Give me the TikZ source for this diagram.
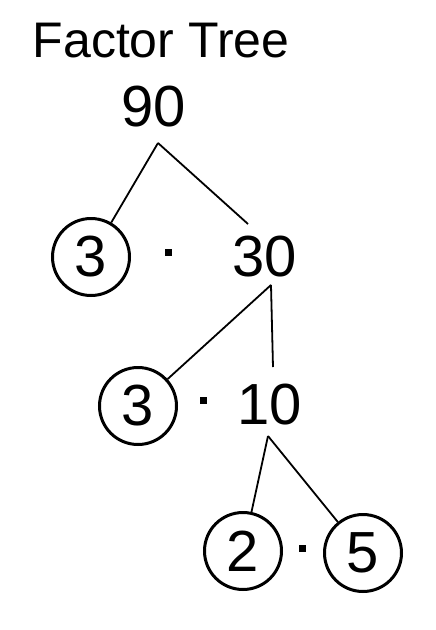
\documentclass[tikz,border=0pt]{standalone}
\usepackage{fontspec}
\setmainfont{Liberation Sans}
\begin{document}
\begin{tikzpicture}[x=1pt,y=-1pt,
  num/.style={inner sep=0pt,font=\fontsize{58}{58}\selectfont},
  ring/.style={circle,draw,line width=3pt,minimum size=77pt,inner sep=0pt,font=\fontsize{58}{58}\selectfont},
  dotmark/.style={fill,minimum size=7pt,inner sep=0pt},
  edge/.style={line width=1.8pt}]
\useasboundingbox (0,0) rectangle (436,630);
\node[inner sep=0pt,font=\fontsize{50}{50}\selectfont] (title) at (161,41) {Factor Tree};
\node[num] (n90) at (154,107) {90};
\node[ring] (c1) at (91,257) {3};
\node[dotmark] (d1) at (168,252) {};
\node[num] (n30) at (265,257) {30};
\node[ring] (c2) at (138,406) {3};
\node[dotmark] (d2) at (203,400) {};
\node[num] (n10) at (270,405) {10};
\node[ring] (c3) at (243,551) {2};
\node[dotmark] (d3) at (302,548) {};
\node[ring] (c4) at (363,553) {5};
\coordinate (a90) at (158,143);
\coordinate (e30) at (248,224);
\coordinate (a30) at (271,285);
\coordinate (e10) at (273,367);
\coordinate (a10) at (268,436);
\draw[edge] (a90) -- (c1);
\draw[edge] (a90) -- (e30);
\draw[edge] (a30) -- (c2);
\draw[edge] (a30) -- (e10);
\draw[edge] (a10) -- (c3);
\draw[edge] (a10) -- (c4);
\end{tikzpicture}
\end{document}
